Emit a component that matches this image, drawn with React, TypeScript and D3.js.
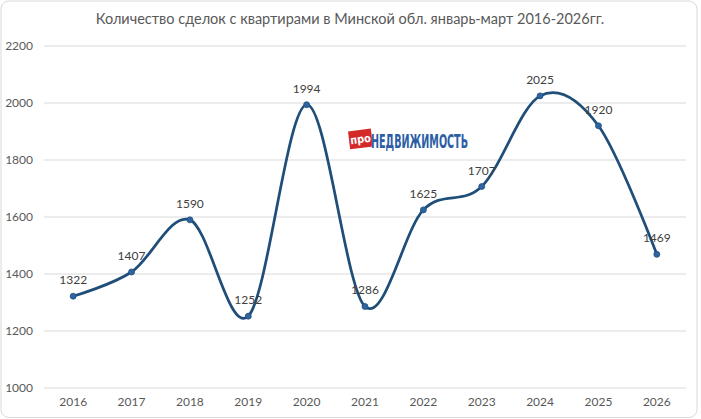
import { useEffect, useRef } from "react";
import * as d3 from "d3";

const years = ["2016", "2017", "2018", "2019", "2020", "2021", "2022", "2023", "2024", "2025", "2026"];
const deals = [1322, 1407, 1590, 1252, 1994, 1286, 1625, 1707, 2025, 1920, 1469];
const yTicks = [1000, 1200, 1400, 1600, 1800, 2000, 2200];
const title = "Количество сделок с квартирами в Минской обл. январь-март 2016-2026гг.";

const W = 701,
  H = 419;
const margin = { top: 46, right: 15, bottom: 31, left: 44 };

function App() {
  const ref = useRef<SVGSVGElement>(null);

  useEffect(() => {
    if (!ref.current) return;
    const svg = d3.select(ref.current);
    svg.selectAll("*").remove();

    const font = "Lato, 'Open Sans', sans-serif";

    // chart frame
    svg
      .append("rect")
      .attr("x", 1)
      .attr("y", 1)
      .attr("width", W - 5)
      .attr("height", H - 2.5)
      .attr("rx", 8)
      .attr("fill", "#fff")
      .attr("stroke", "#d9d9d9");

    const x = d3
      .scalePoint<string>()
      .domain(years)
      .range([margin.left, W - margin.right])
      .padding(0.5);
    const y = d3
      .scaleLinear()
      .domain([1000, 2200])
      .range([H - margin.bottom, margin.top]);

    svg
      .append("text")
      .attr("x", 350)
      .attr("y", 24)
      .attr("text-anchor", "middle")
      .attr("font-family", font)
      .attr("font-size", 14.5)
      .attr("fill", "#595959")
      .text(title);

    // gridlines + y labels
    const grid = svg.append("g");
    grid
      .selectAll("line")
      .data(yTicks)
      .join("line")
      .attr("x1", margin.left)
      .attr("x2", W - margin.right)
      .attr("y1", (d) => y(d))
      .attr("y2", (d) => y(d))
      .attr("stroke", "#d9d9d9")
      .attr("stroke-width", 1);
    grid
      .selectAll("text")
      .data(yTicks)
      .join("text")
      .attr("x", 33)
      .attr("y", (d) => y(d) + 4)
      .attr("text-anchor", "end")
      .attr("font-family", font)
      .attr("font-size", 12)
      .attr("fill", "#595959")
      .text((d) => d);

    svg
      .append("g")
      .selectAll("text")
      .data(years)
      .join("text")
      .attr("x", (d) => x(d)!)
      .attr("y", 406)
      .attr("text-anchor", "middle")
      .attr("font-family", font)
      .attr("font-size", 12)
      .attr("fill", "#595959")
      .text((d) => d);

    // watermark logo
    const logo = svg.append("g").attr("transform", "translate(349,130)");
    logo
      .append("rect")
      .attr("x", 0)
      .attr("y", 0)
      .attr("width", 23)
      .attr("height", 18)
      .attr("fill", "#d42a2a")
      .attr("transform", "rotate(-7 11 9)");
    logo
      .append("text")
      .attr("x", 11.5)
      .attr("y", 13)
      .attr("text-anchor", "middle")
      .attr("font-family", "'DejaVu Sans Condensed', sans-serif")
      .attr("font-weight", "bold")
      .attr("font-size", 11)
      .attr("fill", "#fff")
      .attr("transform", "rotate(-7 11 9)")
      .text("про");
    logo
      .append("text")
      .attr("x", 22)
      .attr("y", 18)
      .attr("font-family", "'DejaVu Sans Condensed', sans-serif")
      .attr("font-weight", "bold")
      .attr("font-size", 19)
      .attr("fill", "#2c5ea6")
      .attr("textLength", 97)
      .attr("lengthAdjust", "spacingAndGlyphs")
      .text("НЕДВИЖИМОСТЬ");

    const pts = years.map((yr, i) => ({ yr, v: deals[i] }));
    const line = d3
      .line<{ yr: string; v: number }>()
      .x((d) => x(d.yr)!)
      .y((d) => y(d.v))
      .curve(d3.curveCardinal.tension(0));

    svg
      .append("path")
      .datum(pts)
      .attr("d", line)
      .attr("fill", "none")
      .attr("stroke", "#1f4e79")
      .attr("stroke-width", 2.75)
      .attr("stroke-linecap", "round");

    svg
      .append("g")
      .selectAll("circle")
      .data(pts)
      .join("circle")
      .attr("cx", (d) => x(d.yr)!)
      .attr("cy", (d) => y(d.v))
      .attr("r", 3)
      .attr("fill", "#2e64a0")
      .attr("stroke", "#1f4e79")
      .attr("stroke-width", 0.75);

    svg
      .append("g")
      .selectAll("text")
      .data(pts)
      .join("text")
      .attr("x", (d) => x(d.yr)!)
      .attr("y", (d) => y(d.v) - 12)
      .attr("text-anchor", "middle")
      .attr("font-family", font)
      .attr("font-size", 12)
      .attr("fill", "#404040")
      .text((d) => d.v);
  }, []);

  return (
    <svg
      ref={ref}
      width={W}
      height={H}
      style={{ position: "absolute", left: 0, top: 0, background: "#fff" }}
    />
  );
}

export default App;
